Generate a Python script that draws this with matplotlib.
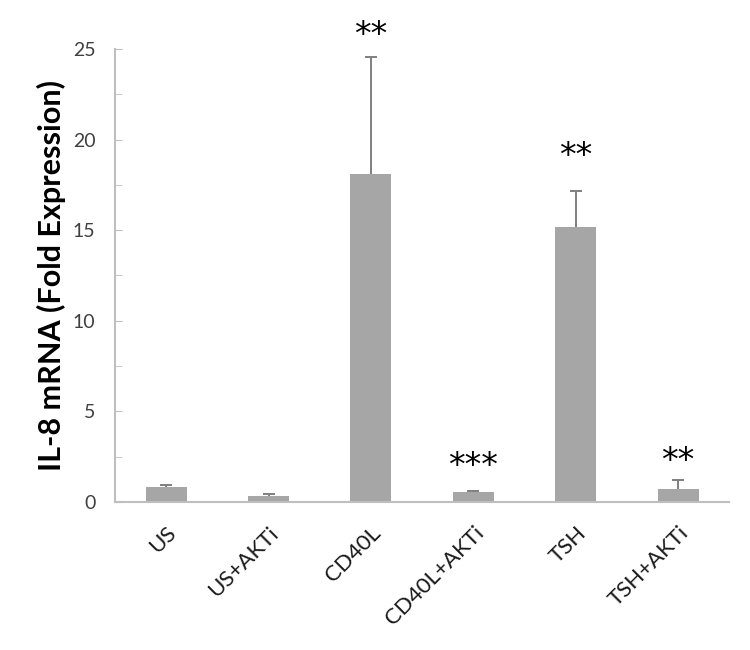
import matplotlib
matplotlib.use("Agg")
import matplotlib.pyplot as plt
import numpy as np

# values
groups = ["US", "US+AKTi", "CD40L", "CD40L+AKTi", "TSH", "TSH+AKTi"]
fold = [0.83, 0.33, 18.1, 0.55, 15.2, 0.7]
err_up = [0.11, 0.11, 6.45, 0.05, 1.95, 0.5]
stars = ["", "", "**", "***", "**", "**"]
star_y = [0, 0, 25.75, 1.95, 19.05, 2.25]

plt.rcParams['font.family'] = ['Lato', 'DejaVu Sans']

fig = plt.figure(figsize=(7.5, 6.5), dpi=100)
ax = fig.add_axes([0.1533, 0.2277, 0.819, 0.697])

x = np.arange(len(groups))
ax.bar(x, fold, width=0.4, color='#a6a6a6', zorder=2)

# upper error bars only, cap on top
tops = np.array(fold) + np.array(err_up)
ax.vlines(x, fold, tops, color='#7f7f7f', linewidth=1.4, zorder=3)
ax.plot(x, tops, ls='none', marker='_', markersize=9, markeredgewidth=1.4,
        color='#7f7f7f', zorder=3)

for xi, s, sy in zip(x, stars, star_y):
    if s:
        ax.text(xi, sy, s, ha='center', va='center', fontsize=24,
                color='black', clip_on=False, family='DejaVu Sans')

ax.set_xlim(-0.5, len(groups) - 0.5)
ax.set_ylim(0, 25)
ax.set_yticks(np.arange(0, 26, 5))
ax.set_yticks(np.arange(2.5, 25, 5), minor=True)
ax.set_xticks(x)
ax.set_xticklabels(groups, rotation=45, ha='right', rotation_mode='anchor',
                   fontsize=16, color='#1a1a1a')
ax.tick_params(axis='x', length=0, pad=15)
ax.tick_params(axis='y', which='both', direction='in', length=5,
               color='#bfbfbf', labelsize=14, labelcolor='#404040', pad=14)

for side in ['top', 'right']:
    ax.spines[side].set_visible(False)
for side in ['left', 'bottom']:
    ax.spines[side].set_color('#bfbfbf')
    ax.spines[side].set_linewidth(1.5)

ax.set_ylabel("IL-8 mRNA (Fold Expression)", fontsize=22, fontweight='bold')
ax.yaxis.set_label_coords(-0.08, 0.5)

fig.savefig("out.png", dpi=100)
